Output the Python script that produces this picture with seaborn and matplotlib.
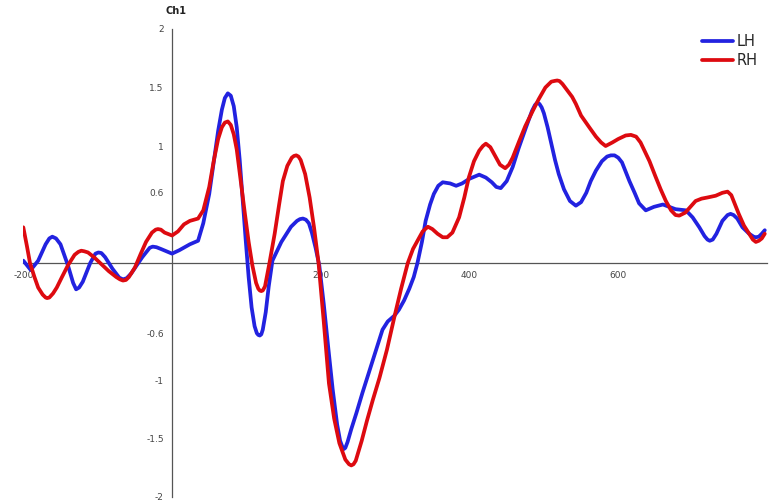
import numpy as np
import pandas as pd
import matplotlib
matplotlib.use("Agg")
import matplotlib.pyplot as plt
import seaborn as sns

# ERP waveforms, channel Ch1 (time in ms, amplitude)
lh_time = [-200, -190, -180, -170, -165, -161, -156, -150, -140, -133, -129, -125, -120, -110,
           -103, -99, -95, -90, -80, -71, -66, -61, -55, -40, -30, -26, -21, -15, 0, 10, 24, 35,
           42, 50, 56, 62, 67, 71, 75, 79, 83, 87, 91, 95, 99, 103, 107, 111, 114, 116, 118,
           120, 122, 126, 130, 135, 141, 147, 154, 160, 168, 172, 176, 180, 184, 188, 193, 198,
           204, 210, 216, 222, 226, 229, 231, 233, 236, 241, 248, 256, 265, 274, 283, 290,
           299, 305, 312, 319, 325, 330, 336, 341, 347, 352, 358, 364, 374, 382, 390, 400,
           413, 422, 430, 436, 442, 450, 458, 466, 476, 484, 488, 491, 494, 497, 500, 505,
           510, 515, 520, 527, 535, 543, 550, 557, 563, 570, 578, 585, 590, 595, 600, 605,
           615, 622, 628, 637, 648, 660, 677, 691, 700, 709, 716, 720, 723, 727, 732, 740,
           747, 751, 755, 760, 767, 776, 782, 785, 789, 793, 797]
lh_amp = [0.02, -0.06, 0.02, 0.16, 0.21, 0.225, 0.21, 0.16, -0.02, -0.17, -0.225, -0.21,
          -0.16, 0.0, 0.08, 0.09, 0.085, 0.05, -0.05, -0.125, -0.14, -0.13, -0.09, 0.05, 0.13,
          0.14, 0.135, 0.12, 0.08, 0.11, 0.16, 0.19, 0.34, 0.59, 0.86, 1.13, 1.31, 1.41, 1.45,
          1.43, 1.34, 1.16, 0.88, 0.54, 0.2, -0.12, -0.38, -0.54, -0.6, -0.615, -0.62, -0.61,
          -0.57, -0.42, -0.2, 0.02, 0.10, 0.18, 0.25, 0.31, 0.36, 0.375, 0.38, 0.37, 0.34,
          0.26, 0.13, -0.02, -0.35, -0.72, -1.08, -1.38, -1.52, -1.57, -1.59, -1.58, -1.53,
          -1.42, -1.28, -1.11, -0.93, -0.75, -0.57, -0.50, -0.45, -0.40, -0.32, -0.22, -0.12,
          0.0, 0.18, 0.36, 0.50, 0.59, 0.66, 0.69, 0.68, 0.66, 0.68, 0.72, 0.755, 0.73, 0.69,
          0.65, 0.64, 0.70, 0.82, 0.98, 1.16, 1.30, 1.35, 1.37, 1.36, 1.33, 1.28, 1.16, 1.02,
          0.88, 0.76, 0.63, 0.53, 0.49, 0.52, 0.60, 0.70, 0.79, 0.87, 0.91, 0.92, 0.92, 0.90,
          0.86, 0.70, 0.60, 0.51, 0.45, 0.48, 0.50, 0.46, 0.45, 0.39, 0.305, 0.23, 0.2, 0.19,
          0.2, 0.25, 0.36, 0.41, 0.42, 0.41, 0.38, 0.305, 0.25, 0.225, 0.22, 0.225, 0.25,
          0.28]

rh_time = [-200, -195, -191, -185, -180, -174, -170, -168, -165, -160, -155, -148, -140, -131,
           -126, -122, -118, -113, -105, -95, -85, -75, -70, -66, -62, -58, -50, -42, -35, -27,
           -22, -19, -15, -10, 0, 8, 16, 24, 35, 42, 50, 56, 62, 67, 71, 75, 79, 83, 87, 92,
           98, 103, 108, 113, 116, 118, 120, 122, 125, 128, 131, 138, 144, 149, 155, 161,
           164, 167, 170, 173, 179, 185, 191, 197, 204, 211, 218, 225, 233, 238, 241, 244,
           247, 255, 262, 270, 279, 289, 299, 308, 317, 324, 330, 337, 344, 350, 357, 364,
           370, 377, 386, 393, 399, 406, 413, 418, 422, 428, 435, 441, 448, 453, 458, 467,
           475, 485, 493, 502, 510, 515, 518, 521, 525, 532, 538, 543, 550, 561, 570, 577,
           583, 592, 600, 610, 617, 624, 630, 636, 642, 650, 657, 664, 671, 677, 682, 690,
           697, 704, 712, 720, 731, 740, 747, 752, 757, 762, 769, 776, 781, 785, 789, 793,
           797]
rh_amp = [0.305, 0.14, 0.0, -0.12, -0.21, -0.27, -0.295, -0.30, -0.295, -0.26, -0.21, -0.12,
          -0.02, 0.07, 0.095, 0.105, 0.1, 0.09, 0.05, -0.01, -0.07, -0.12, -0.14, -0.15, -0.145,
          -0.12, -0.04, 0.08, 0.18, 0.26, 0.285, 0.29, 0.285, 0.26, 0.235, 0.27, 0.33, 0.36,
          0.38, 0.45, 0.65, 0.87, 1.06, 1.16, 1.2, 1.21, 1.18, 1.1, 0.97, 0.72, 0.42, 0.18,
          -0.02, -0.17, -0.22, -0.235, -0.24, -0.235, -0.2, -0.1, 0.0, 0.25, 0.5, 0.70, 0.83,
          0.90, 0.915, 0.92, 0.91, 0.88, 0.76, 0.56, 0.3, 0.0, -0.5, -1.03, -1.33, -1.54,
          -1.68, -1.72, -1.73, -1.72, -1.69, -1.52, -1.35, -1.17, -0.98, -0.74, -0.46, -0.22,
          0.0, 0.12, 0.19, 0.27, 0.31, 0.29, 0.25, 0.22, 0.22, 0.26, 0.39, 0.56, 0.73, 0.87,
          0.96, 1.0, 1.02, 0.99, 0.91, 0.84, 0.81, 0.84, 0.90, 1.045, 1.17, 1.30, 1.40, 1.50,
          1.55, 1.557, 1.56, 1.555, 1.53, 1.47, 1.42, 1.36, 1.26, 1.16, 1.08, 1.03, 1.0, 1.03,
          1.06, 1.09, 1.095, 1.08, 1.03, 0.95, 0.87, 0.74, 0.63, 0.53, 0.45, 0.41, 0.405,
          0.43, 0.48, 0.53, 0.55, 0.56, 0.575, 0.6, 0.61, 0.58, 0.5, 0.42, 0.32, 0.25, 0.2,
          0.18, 0.19, 0.21, 0.25]

hemispheres = ["LH", "RH"]
colors = {"LH": "#2222e0", "RH": "#dd0a10"}

ytick_vals = [-2, -1.5, -1, -0.6, 0.6, 1, 1.5, 2]
ytick_labels = ["-2", "-1.5", "-1", "-0.6", "0.6", "1", "1.5", "2"]
xtick_vals = [-200, 200, 400, 600]
xtick_labels = ["-200", "200", "400", "600"]

df = pd.concat([
    pd.DataFrame({"time": lh_time, "amp": lh_amp, "hemi": "LH"}),
    pd.DataFrame({"time": rh_time, "amp": rh_amp, "hemi": "RH"}),
], ignore_index=True)

sns.set_style("white")
plt.rcParams["font.family"] = ["DejaVu Sans"]

fig = plt.figure(figsize=(7.77, 5.04), dpi=100)
ax = fig.add_axes([23.3 / 777, 1 - 497 / 504, (767 - 23.3) / 777, (497 - 29) / 504])

sns.lineplot(data=df, x="time", y="amp", hue="hemi", hue_order=hemispheres,
             palette=colors, estimator=None, linewidth=2.7, ax=ax)
for ln in ax.lines:
    ln.set_solid_joinstyle("round")
    ln.set_solid_capstyle("round")

ax.set_xlim(-200, 800)
ax.set_ylim(-2, 2)
ax.set_xlabel("")
ax.set_ylabel("")

# axes cross at the origin
ax.spines["left"].set_position(("data", 0))
ax.spines["bottom"].set_position(("data", 0))
ax.spines["top"].set_visible(False)
ax.spines["right"].set_visible(False)
for s in ["left", "bottom"]:
    ax.spines[s].set_color("#555555")
    ax.spines[s].set_linewidth(0.9)
    ax.spines[s].set_zorder(1)

ax.set_yticks(ytick_vals)
ax.set_yticklabels(ytick_labels)
ax.set_xticks(xtick_vals)
ax.set_xticklabels(xtick_labels)
ax.tick_params(axis="both", direction="out", length=4, width=0.8, color="#555555",
               labelsize=6.5, labelcolor="#444444", pad=2)

fig.text(176 / 777, 1 - 11 / 504, "Ch1", ha="center", va="center",
         fontsize=7, fontweight="bold", color="#222222")

handles, labels = ax.get_legend_handles_labels()
ax.legend(handles, labels, loc="upper left", bbox_to_anchor=(702 / 777, 1 - 34 / 504),
          bbox_transform=fig.transFigure, frameon=False, fontsize=10.5,
          handlelength=2.1, handletextpad=0.3, labelspacing=0.3,
          borderpad=0, borderaxespad=0)

fig.savefig("out.png", dpi=100)
